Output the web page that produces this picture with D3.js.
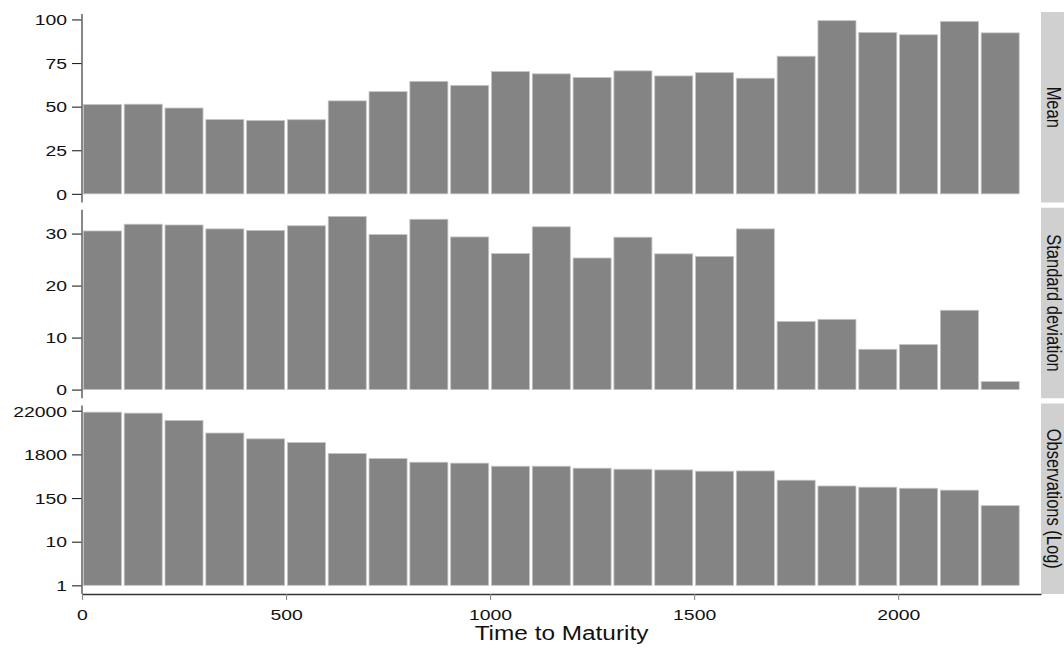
<!DOCTYPE html>
<html><head><meta charset="utf-8">
<script src="https://cdn.jsdelivr.net/npm/d3@7"></script>
<style>
body{margin:0;background:#fff;}
svg{display:block;}
text{font-family:"Liberation Sans",Arial,Helvetica,sans-serif;fill:#111;}
</style>
</head><body>
<svg id="chart" width="1064" height="648"></svg>
<script>
// ---- data ----
const binStarts = [0,100,200,300,400,500,600,700,800,900,1000,1100,1200,1300,1400,1500,1600,1700,1800,1900,2000,2100,2200];
const binWidth = 100;
const meanValues = [51.2,51.4,49.2,42.6,42.0,42.5,53.3,58.6,64.5,62.2,70.1,68.8,66.7,70.5,67.6,69.5,66.3,78.9,99.3,92.5,91.2,98.9,92.3];
const sdValues = [30.5,31.8,31.65,30.9,30.6,31.5,33.3,29.8,32.75,29.35,26.15,31.3,25.3,29.3,26.1,25.6,30.9,13.1,13.5,7.75,8.65,15.25,1.54];
const obsValues = [20300,19200,12600,6140,4400,3560,1900,1420,1155,1095,917,917,820,773,743,690,700,412,296,276,260,233,96];
const panelLabels = ["Mean","Standard deviation","Observations (Log)"];
const xTicks = [0,500,1000,1500,2000];
const meanTicks = [0,25,50,75,100];
const sdTicks = [0,10,20,30];
const obsTickValues = [1,12.18,148.4,1808,22026];
const obsTickLabels = ["1","10","150","1800","22000"];
const xLabel = "Time to Maturity";

// ---- layout ----
const svg = d3.select("#chart");
const L = 82, R = 1041;
const panelTops = [12, 207.75, 403.5];
const panelH = 190.5;
const SX = 1.25;   // horizontal text stretch seen in reference

const x = d3.scaleLinear().domain([0, 2350]).range([L, R]);

function linScale(vals, i){
  const m = d3.max(vals);
  return d3.scaleLinear().domain([-0.05*m, 1.05*m]).range([panelTops[i]+panelH, panelTops[i]]);
}
function logScale(vals, i){
  const lm = Math.log(d3.max(vals));
  return d3.scaleLog().base(Math.E).domain([Math.exp(-0.05*lm), Math.exp(1.05*lm)])
    .range([panelTops[i]+panelH, panelTops[i]]);
}

const panels = [
  {vals: meanValues, y: linScale(meanValues,0), base: 0, ticks: meanTicks, fmt: d=>String(d)},
  {vals: sdValues, y: linScale(sdValues,1), base: 0, ticks: sdTicks, fmt: d=>String(d)},
  {vals: obsValues, y: logScale(obsValues,2), base: 1, ticks: obsTickValues, fmt: (d)=>obsTickLabels[obsTickValues.indexOf(d)]}
];

panels.forEach((p, i) => {
  const g = svg.append("g");
  g.selectAll("rect.bar").data(p.vals).join("rect")
    .attr("class","bar")
    .attr("x", (d,j)=> x(binStarts[j]) + 1.4)
    .attr("width", (d,j)=> x(binStarts[j]+binWidth) - x(binStarts[j]) - 2.8)
    .attr("y", d => p.y(d))
    .attr("height", d => p.y(p.base) - p.y(d))
    .attr("fill", "#848484")
    .attr("stroke", "#c4c4c4")
    .attr("stroke-width", 0.8);

  const ax = g.append("g").attr("transform", `translate(${L},0)`)
    .call(d3.axisLeft(p.y).tickValues(p.ticks).tickFormat(p.fmt).tickSize(10).tickSizeOuter(0));
  ax.select(".domain").remove();
  ax.selectAll(".tick line").attr("stroke", "#222").attr("stroke-width", 1.1);
  ax.selectAll(".tick text")
    .attr("x", 0).attr("dy", "0.34em")
    .attr("transform", `translate(-15,0) scale(${SX},1)`)
    .attr("text-anchor", "end")
    .attr("fill", "#111")
    .style("font-size", "15.5px")
    .style("font-family", '"Liberation Sans",Arial,sans-serif');
  g.append("line")
    .attr("x1", L).attr("x2", L)
    .attr("y1", panelTops[i] + 2).attr("y2", panelTops[i] + panelH)
    .attr("stroke", "#6a6a6a").attr("stroke-width", 1.6);

  g.append("rect")
    .attr("x", R).attr("y", panelTops[i])
    .attr("width", 30).attr("height", panelH)
    .attr("fill", "#d0d0d0");
  g.append("text")
    .attr("transform", `translate(1046.5,${panelTops[i]+panelH/2}) scale(${SX},1) rotate(90)`)
    .attr("text-anchor", "middle")
    .style("font-size", "16.5px")
    .text(panelLabels[i]);
});

const xa = svg.append("g").attr("transform", `translate(0,${panelTops[2]+panelH})`)
  .call(d3.axisBottom(x).tickValues(xTicks).tickFormat(d3.format("d")).tickSize(6).tickSizeOuter(0));
xa.select(".domain").attr("stroke", "#333").attr("stroke-width", 1.3);
xa.selectAll(".tick line").attr("stroke", "#888").attr("stroke-width", 1.1);
xa.selectAll(".tick text")
  .attr("y", 0).attr("dy", 0)
  .attr("transform", `translate(0,26) scale(${SX},1)`)
  .attr("text-anchor", "middle")
  .attr("fill", "#111")
  .style("font-size", "15.5px")
  .style("font-family", '"Liberation Sans",Arial,sans-serif');

svg.append("text")
  .attr("transform", `translate(${(L+R)/2},640) scale(${SX},1)`)
  .attr("text-anchor", "middle")
  .style("font-size", "19.5px")
  .text(xLabel);
</script>
</body></html>
